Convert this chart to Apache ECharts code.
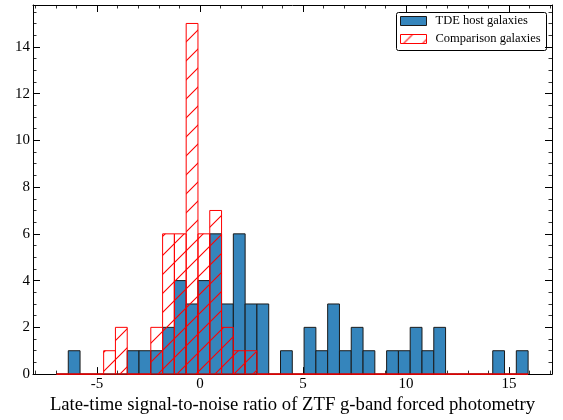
<!DOCTYPE html>
<html>
<head>
<meta charset="utf-8">
<script src="https://cdn.jsdelivr.net/npm/echarts@6/dist/echarts.min.js"></script>
<style>
  html, body { margin: 0; padding: 0; background: #fff; }
  #chart { width: 563px; height: 420px; }
</style>
</head>
<body>
<div id="chart"></div>
<script>
// Histogram binning shared by both samples
const binStart = -6.97;
const binWidth = 0.5725;

// Counts per bin
const tdeCounts = [
  0, 1, 0, 0, 0, 0, 1, 1, 1, 2,
  4, 3, 4, 6, 3, 6, 3, 3, 0, 1,
  0, 2, 1, 3, 1, 2, 1, 0, 1, 1,
  2, 1, 2, 0, 0, 0, 0, 1, 0, 1
];
const compCounts = [
  0, 0, 0, 0, 1, 2, 0, 0, 2, 6,
  6, 15, 6, 7, 2, 1, 1, 0, 0, 0,
  0, 0, 0, 0, 0, 0, 0, 0, 0, 0,
  0, 0, 0, 0, 0, 0, 0, 0, 0, 0
];

const seriesNames = ['TDE host galaxies', 'Comparison galaxies'];
const xTitle = 'Late-time signal-to-noise ratio of ZTF g-band forced photometry';

const xRange = [-8.11, 17.09];
const yRange = [0, 15.79];

const FONT = '"Liberation Serif", "DejaVu Serif", serif';
const BLUE = '#3585bc';
const EDGE = '#1a1a1a';
const RED = '#ff0000';

// diagonal "/" hatch tile
function makeHatch(size, color, lw) {
  const c = document.createElement('canvas');
  c.width = size; c.height = size;
  const g = c.getContext('2d');
  g.strokeStyle = color;
  g.lineWidth = lw;
  g.beginPath();
  g.moveTo(0, size); g.lineTo(size, 0);
  g.moveTo(-2, 2); g.lineTo(2, -2);
  g.moveTo(size - 2, size + 2); g.lineTo(size + 2, size - 2);
  g.stroke();
  return c;
}
const hatch = { image: makeHatch(19, RED, 1.1), repeat: 'repeat' };

function toBins(counts) {
  return counts.map((n, i) => [binStart + i * binWidth, binStart + (i + 1) * binWidth, n]);
}

function barRenderer(style) {
  return function (params, api) {
    const lo = api.coord([api.value(0), api.value(2)]);
    const hi = api.coord([api.value(1), 0]);
    return {
      type: 'rect',
      shape: { x: lo[0], y: lo[1], width: hi[0] - lo[0], height: hi[1] - lo[1] },
      style: Object.assign({}, style)
    };
  };
}

const chart = echarts.init(document.getElementById('chart'), null, { renderer: 'canvas' });

const tickCommon = {
  axisLine: { show: true, onZero: false, lineStyle: { color: '#000', width: 1 } },
  axisTick: { show: true, inside: true, length: 7, lineStyle: { color: '#000', width: 1 } },
  minorTick: { show: true, length: 3.5, lineStyle: { color: '#000', width: 0.8 } },
  splitLine: { show: false }
};

chart.setOption({
  animation: false,
  backgroundColor: '#fff',
  grid: { left: 33, right: 11, top: 5, bottom: 41, containLabel: false },
  xAxis: [
    Object.assign({
      type: 'value', position: 'bottom', min: xRange[0], max: xRange[1],
      name: xTitle, nameLocation: 'middle', nameGap: 19,
      nameTextStyle: { fontFamily: FONT, fontSize: 18.7, color: '#000' },
      axisLabel: {
        show: true, margin: 2, fontFamily: FONT, fontSize: 15, color: '#000',
        showMinLabel: false, showMaxLabel: false
      }
    }, tickCommon, { minorTick: Object.assign({ splitNumber: 5 }, tickCommon.minorTick) }),
    Object.assign({
      type: 'value', position: 'top', min: xRange[0], max: xRange[1],
      axisLabel: { show: false }
    }, tickCommon, { minorTick: Object.assign({ splitNumber: 5 }, tickCommon.minorTick) })
  ],
  yAxis: [
    Object.assign({
      type: 'value', position: 'left', min: yRange[0], max: yRange[1], interval: 2,
      axisLabel: {
        show: true, margin: 3, fontFamily: FONT, fontSize: 15, color: '#000',
        showMaxLabel: false
      }
    }, tickCommon, { minorTick: Object.assign({ splitNumber: 4 }, tickCommon.minorTick) }),
    Object.assign({
      type: 'value', position: 'right', min: yRange[0], max: yRange[1], interval: 2,
      axisLabel: { show: false }
    }, tickCommon, { minorTick: Object.assign({ splitNumber: 4 }, tickCommon.minorTick) })
  ],
  series: [
    {
      name: seriesNames[0],
      type: 'custom',
      xAxisIndex: 0, yAxisIndex: 0,
      encode: { x: [0, 1], y: 2 },
      renderItem: barRenderer({ fill: BLUE, stroke: EDGE, lineWidth: 1 }),
      data: toBins(tdeCounts),
      z: 2
    },
    {
      name: seriesNames[1],
      type: 'custom',
      xAxisIndex: 0, yAxisIndex: 0,
      encode: { x: [0, 1], y: 2 },
      renderItem: barRenderer({ fill: hatch, stroke: RED, lineWidth: 1 }),
      data: toBins(compCounts),
      z: 3
    }
  ],
  graphic: [
    {
      type: 'group', left: 396, top: 12, z: 100,
      children: [
        { type: 'rect', shape: { x: 0, y: 0, width: 150, height: 38, r: 2 },
          style: { fill: '#fff', stroke: '#000', lineWidth: 1 } },
        { type: 'rect', shape: { x: 4, y: 4, width: 26, height: 9 },
          style: { fill: BLUE, stroke: EDGE, lineWidth: 1 } },
        { type: 'text', x: 39, y: 8.5,
          style: { text: seriesNames[0], font: '12.5px ' + FONT, fill: '#000', verticalAlign: 'middle' } },
        { type: 'rect', shape: { x: 4, y: 22, width: 26, height: 9 },
          style: { fill: hatch, stroke: RED, lineWidth: 1 } },
        { type: 'text', x: 39, y: 26.5,
          style: { text: seriesNames[1], font: '12.5px ' + FONT, fill: '#000', verticalAlign: 'middle' } }
      ]
    }
  ]
});
</script>
</body>
</html>
